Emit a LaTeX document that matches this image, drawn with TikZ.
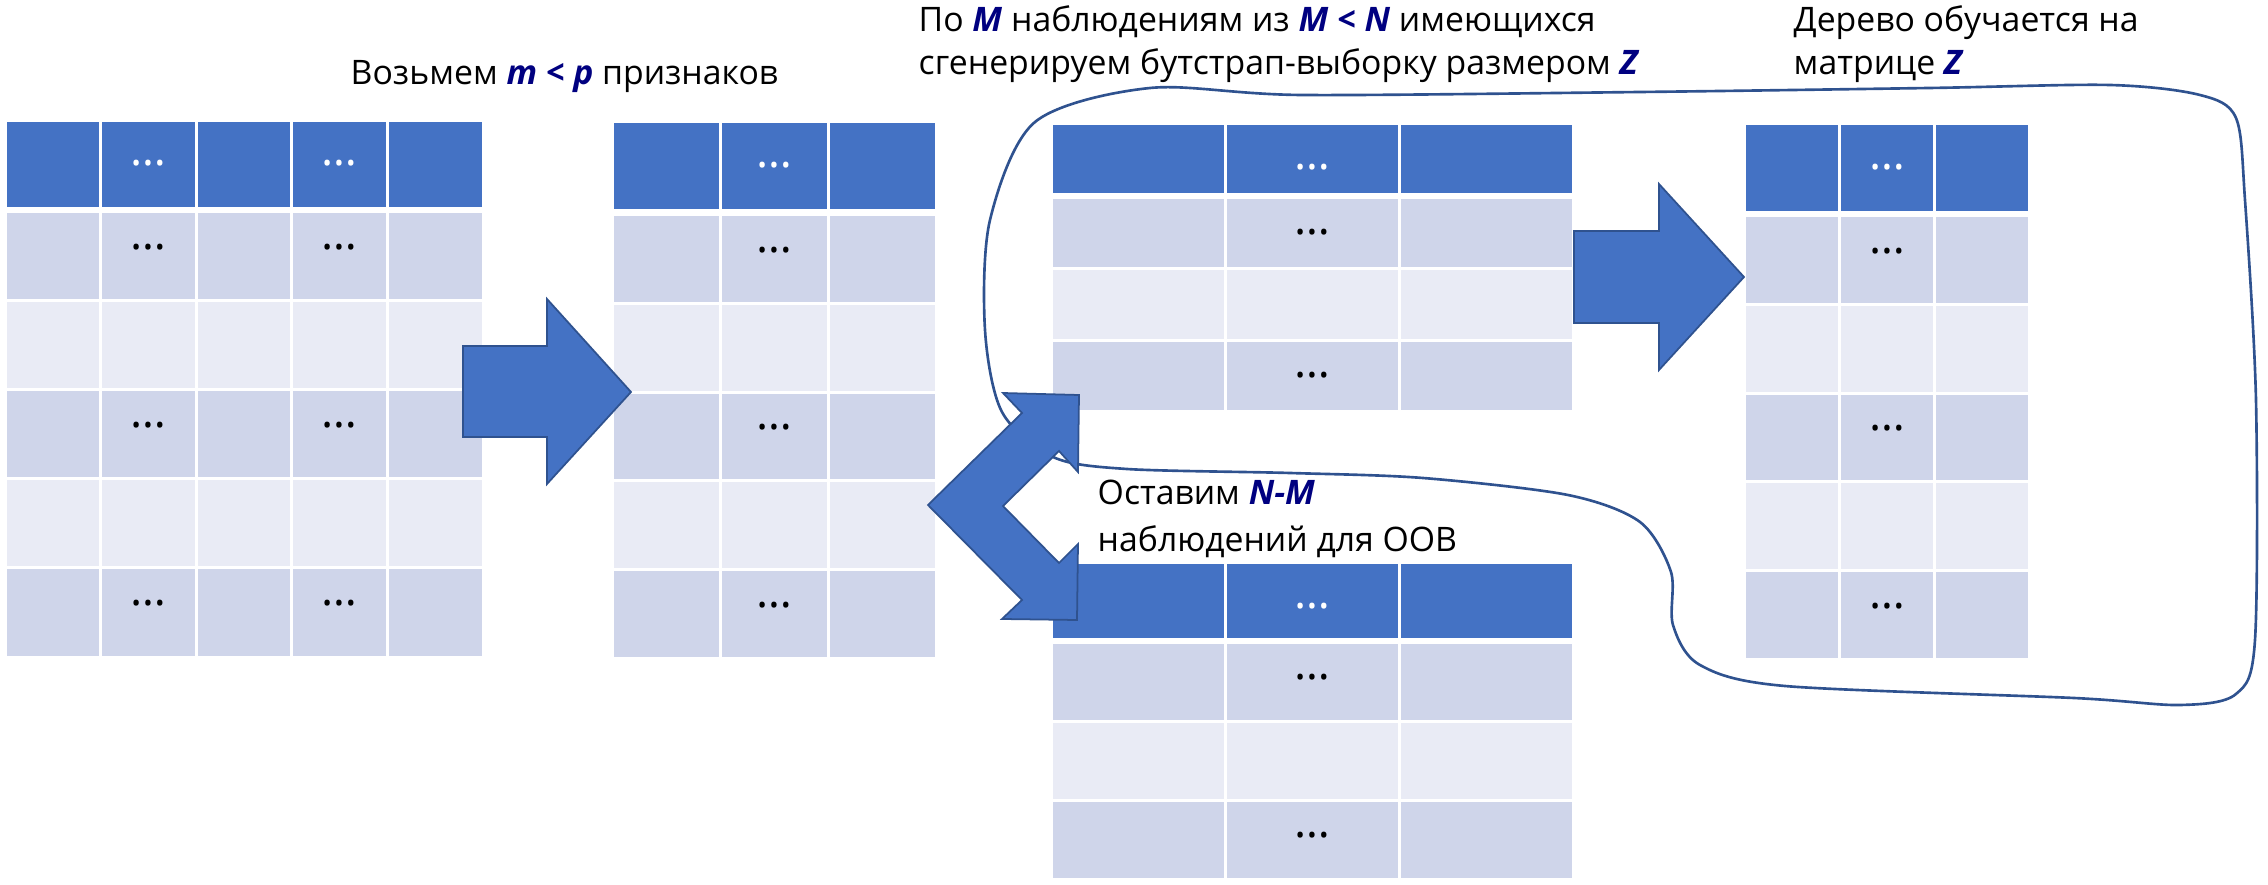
\documentclass[tikz,border=0pt]{standalone}
\usepackage{fontspec}
\setmainfont{Open Sans}
\usepackage{tikz}
\usetikzlibrary{positioning}

\definecolor{hdrblue}{HTML}{4472C4}
\definecolor{rowdark}{HTML}{CFD5EA}
\definecolor{rowlight}{HTML}{E9EBF5}
\definecolor{arrowedge}{HTML}{2F528F}
\definecolor{varnavy}{HTML}{000080}

\newcommand{\mvar}[1]{\textcolor{varnavy}{\textbf{\textit{#1}}}}

\begin{document}
\begin{tikzpicture}[x=0.01cm, y=-0.01cm,
  cell/.style={rectangle, inner sep=0pt, outer sep=0pt},
  hdrcell/.style={cell, fill=hdrblue},
  celldots/.style={inner sep=0pt, font=\fontsize{13}{13}\selectfont},
  blockarrow/.style={fill=hdrblue, draw=arrowedge, line width=0.5pt, line join=miter},
  loopline/.style={draw=arrowedge, line width=0.75pt},
  caption/.style={inner sep=0pt, align=left, font=\fontsize{9.6}{12.4}\selectfont}
]

\useasboundingbox (0,0) rectangle (2268,885);

% Tables: name / left / column width / columns / header top / header height / first row top / row pitch / rows / dots offsets
\foreach \tb/\xo/\cw/\nc/\yh/\hh/\yb/\rh/\nr/\dh/\db in {
    all/5/95.6/5/122/85/213/89.1/5/41/34,
    feat/612/108/3/123/86/216/88.8/5/42/34,
    boot/1051/174.3/3/125/68/199/71.5/3/42/33,
    oob/1051/174.3/3/564/74/644/79/3/42/33,
    tree/1744/95.3/3/125/86/217/88.8/5/42/34}{
  \foreach \ci in {1,...,\nc}{
    \pgfmathsetmacro{\cx}{\xo+(\ci-0.5)*\cw}
    \node[hdrcell, minimum width={(\cw-3)*0.01cm}, minimum height={\hh*0.01cm}]
      (\tb-0-\ci) at (\cx,{\yh+\hh/2}) {};
    \ifodd\ci\else
      \node[celldots, text=white] (\tb-0-\ci-dots) at (\cx,{\yh+\dh}) {…};
    \fi
    \foreach \ri in {1,...,\nr}{
      \ifodd\ri\def\rowfill{rowdark}\else\def\rowfill{rowlight}\fi
      \node[cell, fill=\rowfill, minimum width={(\cw-3)*0.01cm}, minimum height={(\rh-3)*0.01cm}]
        (\tb-\ri-\ci) at (\cx,{\yb+(\ri-1)*\rh+(\rh-3)/2}) {};
      \ifodd\ri\ifodd\ci\else
        \node[celldots] (\tb-\ri-\ci-dots) at (\cx,{\yb+(\ri-1)*\rh+\db}) {…};
      \fi\fi
    }
  }
}

% Captions (base = last line)
\node[caption, anchor=base west] (takefeat) at (350,85) {Возьмем \mvar{m} \mvar{<} \mvar{p} признаков};
\node[caption, anchor=base west] (genboot) at (918,75)
  {По \mvar{M} наблюдениям из \mvar{M} \mvar{<} \mvar{N} имеющихся\\сгенерируем бутстрап-выборку размером \mvar{Z}};
\node[caption, anchor=base west] (trainz) at (1793,75) {Дерево обучается на\\матрице \mvar{Z}};
\node[caption, anchor=base west, font=\fontsize{9.6}{13.1}\selectfont] (keepoob) at (1097,551)
  {Оставим \mvar{N-M}\\наблюдений для ООВ};

% Outline round the sample and the tree
\draw[loopline] plot[smooth cycle, tension=0.5] coordinates {
  (1053,457) (1127,469) (1290,473) (1423,478) (1568,495) (1640,522) (1671,572)
  (1673,625) (1700,665) (1785,686) (2074,698) (2180,705) (2236,694) (2255,640)
  (2256,400) (2245,200) (2236,118) (2200,95) (2110,85) (1929,88) (1640,92)
  (1302,95) (1150,88) (1035,122) (990,220) (985,330) (1002,412)};

% Block arrows
\draw[blockarrow] (463,346) -- (547,346) -- (547,299) -- (631,392) -- (547,484) -- (547,437) -- (463,437) -- cycle;
\draw[blockarrow] (1574,231) -- (1659,231) -- (1659,184) -- (1744,277) -- (1659,370) -- (1659,323) -- (1574,323) -- cycle;
\draw[blockarrow] (928,505) -- (1022,413) -- (1003,393) -- (1079,395) -- (1078,472) -- (1059,451)
  -- (1003,506) -- (1059,563) -- (1078,544) -- (1077,620) -- (1002,619) -- (1022,600) -- cycle;

\end{tikzpicture}
\end{document}
